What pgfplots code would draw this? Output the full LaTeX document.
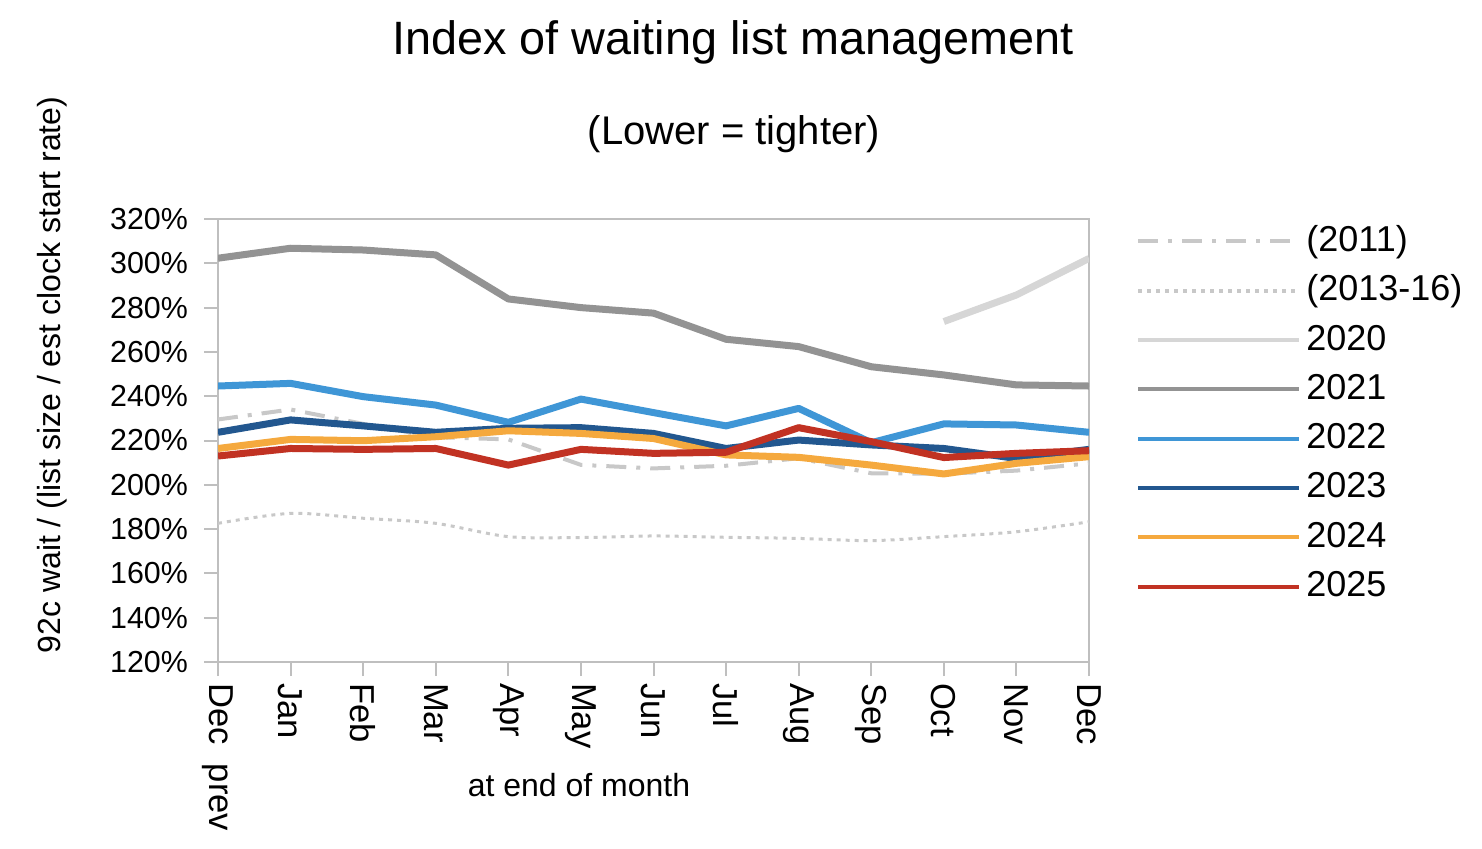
\documentclass[border=0pt]{standalone}
\usepackage{fontspec}
\setmainfont{Liberation Sans}
\usepackage{pgfplots}
\pgfplotsset{compat=1.18}
\definecolor{axgray}{HTML}{BFBFBF}
\definecolor{c2011}{HTML}{C8C8C8}
\definecolor{c2013}{HTML}{C8C8C8}
\definecolor{c2020}{HTML}{D6D6D6}
\definecolor{c2021}{HTML}{939393}
\definecolor{c2022}{HTML}{3F96D6}
\definecolor{c2023}{HTML}{22578F}
\definecolor{c2024}{HTML}{F5A93E}
\definecolor{c2025}{HTML}{C13223}
\begin{document}
\begin{tikzpicture}
\path[use as bounding box] (0,0) rectangle (741pt,424pt);
\node[anchor=base, font=\fontsize{23.4}{27}\selectfont] at (366.5pt,396.5pt) {Index of waiting list management};
\node[anchor=base, font=\fontsize{20}{24}\selectfont] at (367pt,352pt) {(Lower = tighter)};
\node[rotate=90, font=\fontsize{16}{19}\selectfont] at (26pt,236.5pt) {92c wait / (list size / est clock start rate)};
\node[font=\fontsize{16}{19}\selectfont] at (289.5pt,31.5pt) {at end of month};
\begin{axis}[
  at={(109pt,93pt)}, anchor=south west,
  scale only axis, width=435.5pt, height=221.5pt,
  xmin=0, xmax=12, ymin=120, ymax=320,
  xtick={0,1,...,12},
  xticklabels={Dec\ \ prev,Jan,Feb,Mar,Apr,May,Jun,Jul,Aug,Sep,Oct,Nov,Dec},
  ytick={120,140,...,320},
  yticklabels={120\%,140\%,160\%,180\%,200\%,220\%,240\%,260\%,280\%,300\%,320\%},
  axis line style={axgray, line width=1pt},
  every tick/.style={axgray, line width=1pt},
  tick align=outside, major tick length=7pt,
  tick pos=left,
  xticklabel style={rotate=-90, anchor=west, font=\fontsize{17.3}{20}\selectfont},
  yticklabel style={font=\fontsize{15.2}{18}\selectfont, xshift=-4.5pt},
  legend cell align=left,
  legend image code/.code={\draw[#1, line width=2pt] (0pt,0pt) -- (80.5pt,0pt);},
  legend style={draw=none, fill=none, at={(1,1)}, anchor=north west,
    xshift=23.5pt, yshift=-3pt, inner sep=0pt, row sep=8.65pt, column sep=2.5pt,
    font=\fontsize{18}{20}\selectfont,
    nodes={inner sep=0pt, text height=13pt, text depth=3pt}},
  every axis plot/.append style={line join=round},
]
\addplot[c2011, line width=2pt, dash pattern=on 10pt off 5pt on 2pt off 5pt] coordinates {
(0,229.5)(1,234.0)(2,227.5)(3,221.5)(4,220.5)(5,209.0)(6,207.4)(7,208.6)(8,212.0)(9,205.2)(10,205.0)(11,206.4)(12,209.7)};
\addlegendentry{(2011)}
\addplot[c2013, line width=1.5pt, dash pattern=on 2pt off 2.5pt, smooth, tension=0.5] coordinates {
(0,182.6)(1,187.1)(2,184.9)(3,182.6)(4,176.6)(5,176.2)(6,176.9)(7,176.3)(8,175.8)(9,174.8)(10,176.6)(11,178.8)(12,183.3)};
\addlegendentry{(2013-16)}
\addplot[c2020, line width=3.5pt] coordinates {
(10,273.7)(11,285.7)(12,302.2)};
\addlegendentry{2020}
\addplot[c2021, line width=3.5pt] coordinates {
(0,302.3)(1,306.8)(2,306.0)(3,303.8)(4,283.9)(5,280.0)(6,277.5)(7,265.7)(8,262.4)(9,253.3)(10,249.6)(11,245.1)(12,244.6)};
\addlegendentry{2021}
\addplot[c2022, line width=3.5pt] coordinates {
(0,244.6)(1,245.8)(2,239.8)(3,236.0)(4,228.2)(5,238.7)(6,232.6)(7,226.6)(8,234.5)(9,219.0)(10,227.5)(11,227.0)(12,223.7)};
\addlegendentry{2022}
\addplot[c2023, line width=3.5pt] coordinates {
(0,223.7)(1,229.3)(2,226.6)(3,223.7)(4,225.5)(5,225.8)(6,223.2)(7,216.4)(8,220.2)(9,218.0)(10,216.4)(11,211.9)(12,216.0)};
\addlegendentry{2023}
\addplot[c2024, line width=3.5pt] coordinates {
(0,216.4)(1,220.5)(2,219.9)(3,221.7)(4,224.4)(5,223.2)(6,220.9)(7,213.5)(8,212.4)(9,208.9)(10,204.9)(11,209.7)(12,212.7)};
\addlegendentry{2024}
\addplot[c2025, line width=3.5pt] coordinates {
(0,213.0)(1,216.4)(2,216.0)(3,216.4)(4,208.9)(5,216.0)(6,214.2)(7,214.7)(8,225.8)(9,219.5)(10,212.3)(11,214.2)(12,215.4)};
\addlegendentry{2025}
\end{axis}
\end{tikzpicture}
\end{document}
